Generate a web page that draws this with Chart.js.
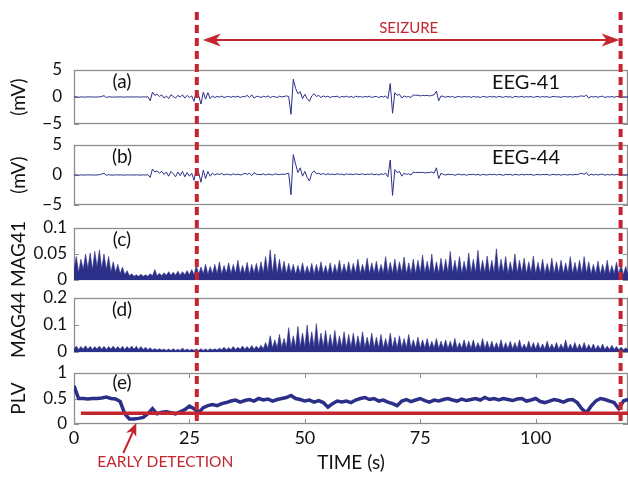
<!DOCTYPE html>
<html>
<head>
<meta charset="utf-8">
<script src="https://cdn.jsdelivr.net/npm/chart.js@4.4.1/dist/chart.umd.min.js"></script>
<style>
html,body{margin:0;padding:0;background:#fff;overflow:hidden}
#wrap{position:relative;width:628px;height:477px}
#wrap canvas{position:absolute;left:0;top:0}
</style>
</head>
<body>
<div id="wrap">
<canvas id="ca" width="628" height="477"></canvas>
<canvas id="cb" width="628" height="477"></canvas>
<canvas id="cc" width="628" height="477"></canvas>
<canvas id="cd" width="628" height="477"></canvas>
<canvas id="ce" width="628" height="477"></canvas>
</div>
<script>
// ---------- DATA ----------
const T_HALF = [
0,0.5,1,1.5,2,2.5,3,3.5,4,4.5,5,5.5,6,6.5,7,7.5,8,8.5,9,9.5,
10,10.5,11,11.5,12,12.5,13,13.5,14,14.5,15,15.5,16,16.5,17,17.5,18,18.5,19,19.5,
20,20.5,21,21.5,22,22.5,23,23.5,24,24.5,25,25.5,26,26.5,27,27.5,28,28.5,29,29.5,
30,30.5,31,31.5,32,32.5,33,33.5,34,34.5,35,35.5,36,36.5,37,37.5,38,38.5,39,39.5,
40,40.5,41,41.5,42,42.5,43,43.5,44,44.5,45,45.5,46,46.5,47,47.5,48,48.5,49,49.5,
50,50.5,51,51.5,52,52.5,53,53.5,54,54.5,55,55.5,56,56.5,57,57.5,58,58.5,59,59.5,
60,60.5,61,61.5,62,62.5,63,63.5,64,64.5,65,65.5,66,66.5,67,67.5,68,68.5,69,69.5,
70,70.5,71,71.5,72,72.5,73,73.5,74,74.5,75,75.5,76,76.5,77,77.5,78,78.5,79,79.5,
80,80.5,81,81.5,82,82.5,83,83.5,84,84.5,85,85.5,86,86.5,87,87.5,88,88.5,89,89.5,
90,90.5,91,91.5,92,92.5,93,93.5,94,94.5,95,95.5,96,96.5,97,97.5,98,98.5,99,99.5,
100,100.5,101,101.5,102,102.5,103,103.5,104,104.5,105,105.5,106,106.5,107,107.5,108,108.5,109,109.5,
110,110.5,111,111.5,112,112.5,113,113.5,114,114.5,115,115.5,116,116.5,117,117.5,118,118.5,119,119.5,120
];
const T_ONE = [
0,1,2,3,4,5,6,7,8,9,10,11,12,13,14,15,16,17,18,19,20,21,22,23,24,25,26,27,28,29,
30,31,32,33,34,35,36,37,38,39,40,41,42,43,44,45,46,47,48,49,50,51,52,53,54,55,56,57,58,59,
60,61,62,63,64,65,66,67,68,69,70,71,72,73,74,75,76,77,78,79,80,81,82,83,84,85,86,87,88,89,
90,91,92,93,94,95,96,97,98,99,100,101,102,103,104,105,106,107,108,109,110,111,112,113,114,115,116,117,118,119,120
];
const EEG41 = [
0,.05,-.05,.02,0,-.03,.04,0,.02,-.02,0,.03,.1,.25,-.1,.05,0,-.03,.02,0,
.02,0,-.03,.03,0,.02,-.02,.03,0,-.02,.02,0,.05,-.7,.9,.3,.5,.1,.4,-.2,
.2,-.3,.4,.1,-.2,.3,0,.4,-.2,.3,-.1,.2,-.8,1.2,.3,-1.3,.9,-.4,.8,-.3,
.2,-.1,.1,0,.15,-.1,.05,.1,-.05,.1,0,.15,-.1,.1,.05,.3,-.1,.4,-.2,.1,
.1,-.1,.15,0,.2,-.1,.1,.05,-.1,.15,0,.1,.2,.1,-3.2,3.3,1.6,.6,1.0,-.3,
.5,-.3,-.8,.2,.6,.1,.3,-.1,.2,0,.15,-.1,.1,.05,.15,-.1,.1,0,.15,-.05,
.1,-.1,.15,0,.1,-.05,.1,0,.15,-.1,.05,.1,-.1,.1,0,.2,-.3,2.5,-3.0,.8,
.3,.5,-.2,.2,0,.1,-.1,.4,.3,.35,.2,.3,.25,.3,.2,.3,.4,1.1,-.7,.2,
.1,-.05,.1,0,.1,-.1,.05,.1,-.05,.1,0,.08,-.08,.1,0,.05,-.1,.1,.05,-.05,
.1,0,.08,-.05,.1,.02,-.06,.1,0,.05,-.1,.1,.05,0,.12,-.05,.08,0,.1,-.08,
.05,.1,-.05,.1,0,.08,-.1,.05,.12,0,.05,-.08,.1,.05,0,.1,-.05,.08,0,.15,
.2,.1,.35,-.2,.1,0,.1,-.05,.08,.15,-.1,.05,0,.1,-.05,.08,.1,-.1,.05,0,.05
];
const EEG44 = [
0,.03,-.03,.02,0,-.02,.03,0,.02,-.02,.02,.05,.15,.3,-.05,.05,0,-.02,.03,0,
.02,0,-.03,.03,0,.02,-.02,.03,0,-.02,.02,0,.05,-.4,1.0,.5,.7,.3,.6,.1,
.5,-.2,.6,.2,-.3,.5,-.1,.6,-.3,.4,-.2,.3,-.9,1.1,.4,-1.2,.8,-.6,.6,-.2,
.3,0,.2,.1,.25,0,.15,.1,0,.2,.05,.15,0,.1,.3,.1,.3,-.1,.4,.1,
.1,.05,.2,0,.15,.1,0,.2,.1,.05,.15,.1,.2,.3,-3.3,3.4,1.8,.4,1.2,-.2,
.6,-.4,-1.0,.3,.7,.2,.3,.1,.25,.05,.2,.1,.15,.05,.2,.1,.15,0,.2,.1,
.15,.05,.2,.1,.1,.2,.05,.15,.1,.2,.05,.15,0,.2,.1,.3,-.3,2.5,-3.4,.9,
.4,.6,-.2,.3,.1,.2,0,.5,.4,.45,.4,.45,.35,.4,.4,.5,.3,1.2,-.6,.3,
.1,0,.15,.05,.1,-.05,.1,.15,0,.1,-.05,.1,.05,.12,0,.1,-.05,.1,.05,0,
.1,.05,.12,0,.1,.05,-.05,.1,.05,.1,-.05,.1,.05,0,.12,0,.1,.05,.1,-.05,
.05,.1,0,.1,.05,.1,-.05,.08,.1,0,.1,-.05,.1,.05,0,.1,0,.1,.05,.2,
.3,.1,.4,-.1,.15,0,.1,0,.1,.15,-.05,.1,0,.1,0,.1,.1,-.05,.05,0,.05
];
const MAG41 = [
.02,.045,.015,.04,.02,.05,.022,.052,.02,.055,.025,.058,.022,.05,.02,.045,.015,.035,.015,.03,
.012,.025,.01,.018,.008,.012,.007,.01,.007,.011,.007,.01,.007,.012,.008,.02,.008,.013,.008,.014,
.009,.016,.009,.015,.009,.017,.009,.016,.01,.018,.01,.02,.01,.028,.011,.025,.012,.03,.011,.026,
.012,.03,.012,.035,.011,.028,.013,.033,.012,.03,.013,.038,.012,.028,.012,.034,.011,.03,.013,.032,
.012,.035,.013,.045,.014,.058,.013,.05,.012,.04,.013,.036,.012,.032,.013,.03,.011,.028,.012,.033,
.011,.027,.012,.032,.011,.03,.013,.035,.012,.028,.012,.033,.011,.03,.013,.038,.012,.031,.013,.035,
.012,.032,.013,.04,.012,.03,.014,.042,.012,.033,.013,.036,.012,.03,.013,.045,.012,.034,.013,.04,
.012,.035,.014,.044,.012,.033,.013,.04,.012,.038,.014,.048,.013,.036,.014,.05,.012,.035,.013,.042,
.013,.04,.014,.055,.013,.038,.014,.045,.012,.036,.014,.052,.013,.04,.014,.057,.013,.038,.014,.046,
.013,.038,.014,.06,.013,.04,.014,.045,.012,.035,.014,.05,.013,.038,.014,.042,.012,.035,.014,.046,
.012,.034,.013,.04,.012,.032,.013,.042,.012,.035,.013,.038,.012,.033,.013,.045,.012,.034,.013,.038,
.012,.045,.013,.035,.011,.03,.012,.036,.011,.03,.012,.038,.011,.028,.012,.034,.011,.03,.01,.026,.011
];
const MAG44 = [
.01,.022,.009,.02,.011,.023,.01,.021,.009,.02,.011,.022,.01,.021,.009,.02,.011,.022,.01,.02,
.01,.021,.009,.02,.011,.022,.01,.021,.009,.02,.009,.018,.008,.016,.007,.013,.007,.012,.007,.011,
.006,.011,.006,.012,.006,.01,.006,.015,.006,.011,.006,.01,.006,.011,.006,.012,.006,.011,.006,.012,
.007,.012,.007,.014,.008,.018,.008,.016,.009,.02,.009,.018,.01,.022,.01,.02,.01,.024,.01,.022,
.011,.025,.012,.035,.014,.06,.015,.045,.016,.065,.016,.05,.017,.09,.017,.06,.018,.095,.018,.07,
.018,.1,.019,.075,.018,.105,.018,.07,.019,.08,.017,.065,.018,.08,.017,.06,.018,.075,.017,.065,
.017,.07,.016,.06,.017,.075,.016,.055,.017,.07,.015,.055,.016,.065,.015,.05,.016,.07,.015,.055,
.015,.06,.015,.05,.016,.065,.015,.045,.015,.055,.014,.045,.015,.05,.014,.04,.015,.05,.013,.04,
.014,.045,.013,.04,.014,.05,.013,.035,.014,.045,.013,.04,.013,.045,.012,.035,.013,.05,.012,.04,
.012,.04,.012,.035,.012,.045,.011,.035,.012,.04,.011,.035,.012,.045,.011,.03,.012,.04,.011,.035,
.011,.035,.011,.03,.011,.04,.011,.03,.011,.035,.01,.03,.011,.045,.01,.03,.011,.035,.01,.03,
.01,.035,.01,.028,.01,.03,.009,.025,.01,.03,.009,.022,.009,.025,.009,.02,.008,.018,.008,.015,.008
];
const PLV = [
.75,.5,.5,.49,.5,.5,.51,.53,.5,.49,
.44,.2,.1,.1,.11,.13,.2,.3,.2,.23,
.24,.22,.2,.24,.28,.35,.3,.22,.32,.36,
.38,.36,.4,.42,.45,.47,.43,.46,.48,.45,
.5,.47,.49,.45,.48,.5,.52,.56,.5,.48,
.45,.47,.43,.46,.42,.33,.4,.45,.43,.45,
.42,.47,.5,.52,.48,.5,.45,.47,.43,.4,
.36,.45,.48,.44,.47,.5,.46,.43,.47,.45,
.48,.5,.47,.45,.49,.46,.48,.5,.47,.52,
.48,.5,.47,.5,.48,.46,.49,.5,.45,.47,
.5,.44,.42,.45,.48,.46,.43,.47,.48,.42,
.3,.22,.35,.45,.5,.48,.45,.42,.3,.45,
.48
];
const THRESH_T = [1.5, 120];
const THRESH_V = [0.21, 0.21];
const SEIZURE = [26.6, 118.4];
const EARLY_T = 13.5;

const X_TICKS = [0, 25, 50, 75, 100];
const X_TICK_LABELS = ['0', '25', '50', '75', '100'];
const Y_TICKS_EEG = [-5, 0, 5];
const Y_TICK_LABELS_EEG = ['\u22125', '0', '5'];
const Y_TICKS_MAG41 = [0, 0.05, 0.1];
const Y_TICK_LABELS_MAG41 = ['0', '0.05', '0.1'];
const Y_TICKS_MAG44 = [0, 0.1, 0.2];
const Y_TICK_LABELS_MAG44 = ['0', '0.1', '0.2'];
const Y_TICKS_PLV = [0, 0.5, 1];
const Y_TICK_LABELS_PLV = ['0', '0.5', '1'];

// ---------- STYLE ----------
const FONT = "Lato, 'Noto Sans', sans-serif";
const NAVY = '#2c2f88';
const RED = '#c3262e';
const FRAME = '#8e8e8e';
const W = 628, H = 477;

function pts(xs, ys) { return ys.map((v, i) => ({x: xs[i], y: v})); }

function seg(ctx, x1, y1, x2, y2) { ctx.beginPath(); ctx.moveTo(x1, y1); ctx.lineTo(x2, y2); ctx.stroke(); }

function arrowHead(ctx, tx, ty, ang, len, half) {
  ctx.save(); ctx.translate(tx, ty); ctx.rotate(ang);
  ctx.beginPath(); ctx.moveTo(0, 0); ctx.lineTo(-len, -half); ctx.lineTo(-len * 0.72, 0); ctx.lineTo(-len, half);
  ctx.closePath(); ctx.fill(); ctx.restore();
}

const framePlugin = {
  id: 'frame',
  beforeDatasetsDraw(chart, args, o) {
    const {ctx, chartArea: a, scales} = chart;
    ctx.save();
    ctx.strokeStyle = FRAME; ctx.lineWidth = 1.3;
    ctx.strokeRect(a.left + 0.5, a.top + 0.5, a.right - a.left - 1, a.bottom - a.top - 1);
    ctx.lineWidth = 1;
    scales.y.ticks.forEach(t => {
      const y = Math.round(scales.y.getPixelForValue(t.value)) + 0.5;
      seg(ctx, a.left, y, a.left + 5, y); seg(ctx, a.right - 5, y, a.right, y);
    });
    if (o.xTicks) {
      X_TICKS.forEach(v => {
        const x = Math.round(scales.x.getPixelForValue(v)) + 0.5;
        seg(ctx, x, a.top, x, a.top + 5); seg(ctx, x, a.bottom - 5, x, a.bottom);
      });
    }
    ctx.restore();
  },
  afterDatasetsDraw(chart, args, o) {
    const {ctx, chartArea: a} = chart;
    ctx.save();
    ctx.fillStyle = '#111'; ctx.textAlign = 'center'; ctx.textBaseline = 'middle';
    ctx.font = `19px ${FONT}`;
    ctx.fillText(o.tag, a.left + 48, a.top + o.tagDy);
    if (o.name) { ctx.font = `20px ${FONT}`; ctx.fillText(o.name, a.left + 452, a.top + 13); }
    ctx.restore();
  }
};

const overlayPlugin = {
  id: 'overlay',
  afterDraw(chart) {
    const {ctx, chartArea: a, scales} = chart;
    const xs = scales.x.getPixelForValue(SEIZURE[0]);
    const xe = scales.x.getPixelForValue(SEIZURE[1]);
    ctx.save();
    ctx.strokeStyle = RED; ctx.fillStyle = RED;
    ctx.lineWidth = 4; ctx.setLineDash([8, 5]);
    seg(ctx, xs, 12, xs, a.bottom - 3);
    seg(ctx, xe, 12, xe, a.bottom - 3);
    ctx.setLineDash([]);
    // seizure span arrow
    ctx.lineWidth = 2;
    seg(ctx, xs + 12, 40, xe - 10, 40);
    arrowHead(ctx, xs + 6, 40, Math.PI, 18, 6.5);
    arrowHead(ctx, xe - 1, 40, 0, 18, 6.5);
    ctx.font = `15px ${FONT}`; ctx.textAlign = 'center'; ctx.textBaseline = 'middle';
    ctx.fillText('SEIZURE', (xs + xe) / 2, 28);
    // early detection
    const tipX = scales.x.getPixelForValue(EARLY_T), tipY = a.bottom - 1;
    const tailX = tipX - 13, tailY = tipY + 30;
    ctx.lineWidth = 2;
    seg(ctx, tailX, tailY, tipX - 3, tipY + 8);
    arrowHead(ctx, tipX, tipY, Math.atan2(tipY - tailY, tipX - tailX), 13, 5.5);
    ctx.font = `15.5px ${FONT}`;
    ctx.fillText('EARLY DETECTION', tipX + 29, tipY + 39);
    ctx.restore();
  }
};

function panel(id, cfg) {
  const showX = !!cfg.showX;
  const tickFont = {family: FONT, size: 17};
  const xScale = {
    type: 'linear', min: 0, max: 120, display: showX,
    grid: {display: false, drawTicks: false}, border: {display: false},
    afterBuildTicks: s => { s.ticks = X_TICKS.map(v => ({value: v})); },
    ticks: {autoSkip: false, maxRotation: 0, padding: 3, color: '#111',
            font: {family: FONT, size: 18}, callback: (v, i) => X_TICK_LABELS[i]},
    title: {display: showX, text: 'TIME (s)', color: '#111', font: {family: FONT, size: 19}, padding: {top: 0, bottom: 3}}
  };
  if (showX) xScale.afterFit = s => { s.height = H - cfg.bottom; };
  return new Chart(document.getElementById(id), {
    type: 'line',
    data: {datasets: cfg.datasets},
    options: {
      responsive: false, animation: false, devicePixelRatio: 1,
      layout: {padding: {top: cfg.top, bottom: showX ? 0 : H - cfg.bottom, left: 0, right: 0}},
      elements: {point: {radius: 0}, line: {tension: 0}},
      plugins: {
        legend: {display: false}, tooltip: {enabled: false},
        frame: {tag: cfg.tag, name: cfg.name, tagDy: cfg.tagDy || 12, xTicks: showX}
      },
      scales: {
        x: xScale,
        y: {
          min: cfg.yMin, max: cfg.yMax,
          grid: {display: false, drawTicks: false}, border: {display: false},
          afterBuildTicks: s => { s.ticks = cfg.yTicks.map(v => ({value: v})); },
          ticks: {autoSkip: false, padding: cfg.tickPad, color: '#111', font: tickFont,
                  callback: (v, i) => cfg.yLabels[i]},
          title: {display: true, text: cfg.title, color: '#111', font: {family: FONT, size: 19}, padding: {top: 7, bottom: 0}},
          afterFit: s => { s.width = 74; }
        }
      }
    },
    plugins: cfg.overlay ? [framePlugin, overlayPlugin] : [framePlugin]
  });
}

const lineDs = (xs, ys) => ({data: pts(xs, ys), borderColor: NAVY, borderWidth: 1, fill: false});
const fillDs = (xs, ys) => ({data: pts(xs, ys), borderColor: NAVY, borderWidth: 0.6, backgroundColor: NAVY, fill: 'origin'});

panel('ca', {top: 70, bottom: 124, yMin: -5, yMax: 5, yTicks: Y_TICKS_EEG, yLabels: Y_TICK_LABELS_EEG,
  tickPad: 12, title: '(mV)', tag: '(a)', name: 'EEG-41', datasets: [lineDs(T_HALF, EEG41)]});
panel('cb', {top: 145, bottom: 205, yMin: -5, yMax: 5, yTicks: Y_TICKS_EEG, yLabels: Y_TICK_LABELS_EEG,
  tickPad: 12, title: '(mV)', tag: '(b)', name: 'EEG-44', datasets: [lineDs(T_HALF, EEG44)]});
panel('cc', {top: 228, bottom: 280, yMin: 0, yMax: 0.1, yTicks: Y_TICKS_MAG41, yLabels: Y_TICK_LABELS_MAG41,
  tickPad: 7, title: 'MAG41', tag: '(c)', datasets: [fillDs(T_HALF, MAG41)]});
panel('cd', {top: 298, bottom: 352, yMin: 0, yMax: 0.2, yTicks: Y_TICKS_MAG44, yLabels: Y_TICK_LABELS_MAG44,
  tickPad: 7, title: 'MAG44', tag: '(d)', datasets: [fillDs(T_HALF, MAG44)]});
panel('ce', {top: 373, bottom: 424, yMin: 0, yMax: 1, yTicks: Y_TICKS_PLV, yLabels: Y_TICK_LABELS_PLV,
  tickPad: 7, title: 'PLV', tag: '(e)', tagDy: 10, showX: true, overlay: true,
  datasets: [
    {data: pts(THRESH_T, THRESH_V), borderColor: RED, borderWidth: 3.5, fill: false},
    {data: pts(T_ONE, PLV), borderColor: NAVY, borderWidth: 3.5, fill: false}
  ]});
</script>
</body>
</html>
